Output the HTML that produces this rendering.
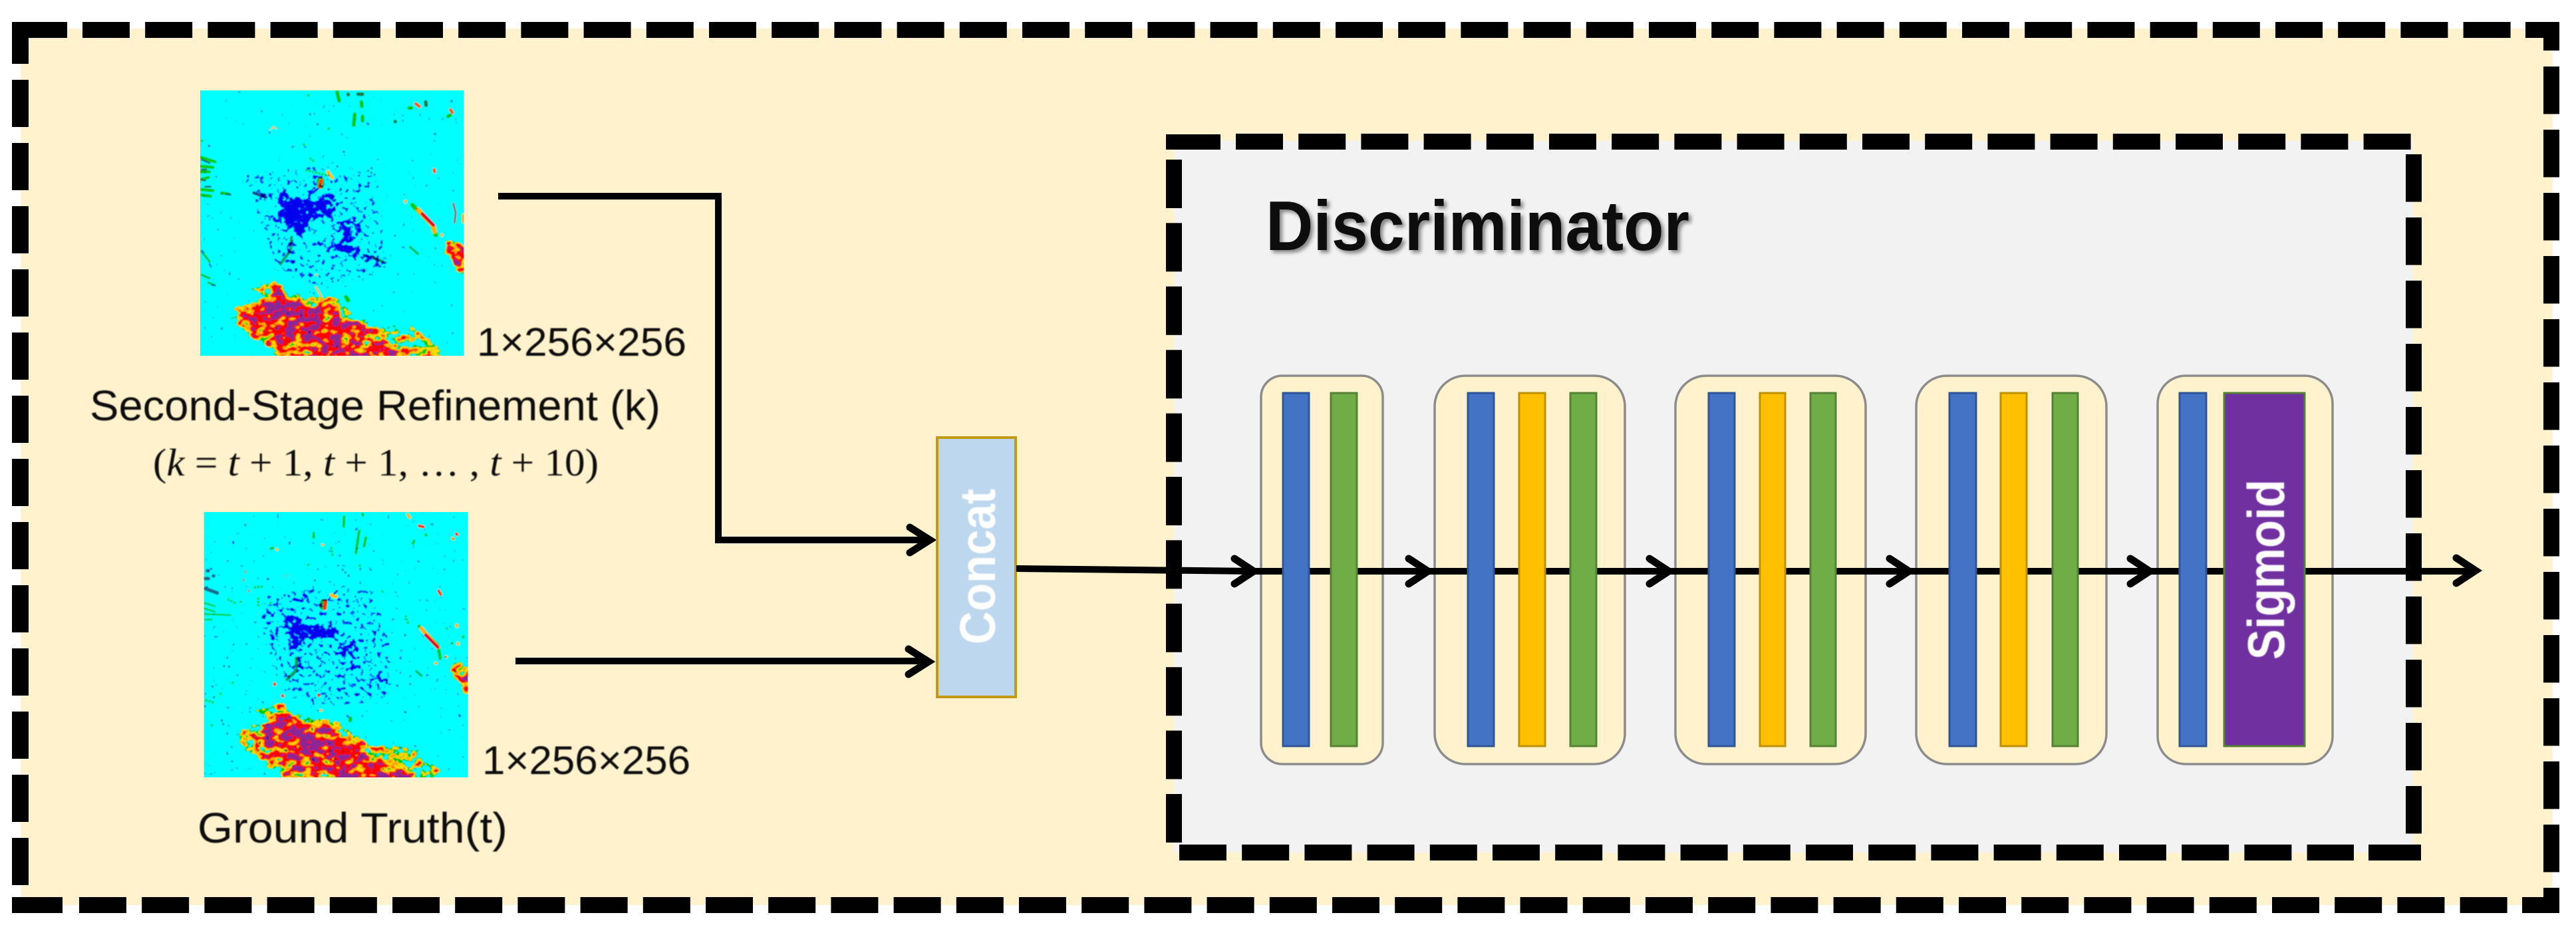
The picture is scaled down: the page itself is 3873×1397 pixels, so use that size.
<!DOCTYPE html>
<html lang="en">
<head>
<meta charset="utf-8">
<title>Discriminator diagram</title>
<style>
html,body{margin:0;padding:0;background:#fff}
svg{display:block}
text{font-family:"Liberation Sans",sans-serif;fill:#0d0d0d}
.ar{fill:none;stroke:#000;stroke-width:11;stroke-linecap:round;stroke-linejoin:miter}
.ln{fill:none;stroke:#000;stroke-width:10;stroke-linejoin:miter}
.bx{fill:#FFF2CC;stroke:#8c8c8c;stroke-width:3.5}
.bl{fill:#4472C4;stroke:#2F5597;stroke-width:3}
.ye{fill:#FFC000;stroke:#BF9000;stroke-width:3}
.gr{fill:#70AD47;stroke:#548235;stroke-width:3}
.s{fill:none;stroke-linecap:round;stroke-linejoin:round}
.sg{stroke:#00d000;stroke-width:10;stroke-dasharray:1 14}
.st{stroke:#007f9a;stroke-width:9;stroke-dasharray:1 16}
</style>
</head>
<body>
<svg xmlns="http://www.w3.org/2000/svg" width="3873" height="1397" viewBox="0 0 3873 1397">
<defs>
<clipPath id="c1"><rect x="33" y="18" width="1189" height="1197"/></clipPath>
<clipPath id="c2"><rect x="20" y="30" width="1190" height="1197"/></clipPath>
<filter id="sf" x="-2%" y="-2%" width="104%" height="104%"><feGaussianBlur stdDeviation="2"/></filter>
<filter id="tb" x="-5%" y="-20%" width="110%" height="140%"><feGaussianBlur stdDeviation="0.8"/></filter>
<filter id="m1" x="0" y="0" width="100%" height="100%" color-interpolation-filters="sRGB">
<feGaussianBlur in="SourceGraphic" stdDeviation="9" result="h"/>
<feTurbulence type="fractalNoise" baseFrequency=".024 .034" numOctaves="2" seed="4"/>
<feColorMatrix type="matrix" values="1 0 0 0 0 1 0 0 0 0 1 0 0 0 0 0 0 0 0 1" result="n"/>
<feComposite in="h" in2="n" operator="arithmetic" k1="0" k2="1" k3="1" k4="-.5"/>
<feComponentTransfer>
<feFuncR type="discrete" tableValues="0 0 0 0 0 0 1 1 1 1 .55 .55"/>
<feFuncG type="discrete" tableValues="1 1 1 1 1 .8 .85 .65 0 0 .15 .15"/>
<feFuncB type="discrete" tableValues="1 1 1 1 1 0 0 0 0 0 .58 .58"/>
</feComponentTransfer>
</filter>
<filter id="m2" x="0" y="0" width="100%" height="100%" color-interpolation-filters="sRGB">
<feGaussianBlur in="SourceGraphic" stdDeviation="9" result="h"/>
<feTurbulence type="fractalNoise" baseFrequency=".024 .034" numOctaves="2" seed="11"/>
<feColorMatrix type="matrix" values="1 0 0 0 0 1 0 0 0 0 1 0 0 0 0 0 0 0 0 1" result="n"/>
<feComposite in="h" in2="n" operator="arithmetic" k1="0" k2="1" k3="1" k4="-.5"/>
<feComponentTransfer>
<feFuncR type="discrete" tableValues="0 0 0 0 0 0 1 1 1 1 .55 .55"/>
<feFuncG type="discrete" tableValues="1 1 1 1 1 .8 .85 .65 0 0 .15 .15"/>
<feFuncB type="discrete" tableValues="1 1 1 1 1 0 0 0 0 0 .58 .58"/>
</feComponentTransfer>
</filter>
<filter id="b1" x="0" y="0" width="100%" height="100%" color-interpolation-filters="sRGB">
<feGaussianBlur in="SourceGraphic" stdDeviation="8" result="h"/>
<feTurbulence type="fractalNoise" baseFrequency=".05" numOctaves="2" seed="7"/>
<feColorMatrix type="matrix" values="1 0 0 0 0 1 0 0 0 0 1 0 0 0 0 0 0 0 0 1" result="n"/>
<feComposite in="h" in2="n" operator="arithmetic" k1="0" k2="1" k3="1.8" k4="-.9"/>
<feComponentTransfer>
<feFuncR type="discrete" tableValues="1 1 1 1 1 1 1 1 .1 .1 0 0 0 0 0 0"/>
<feFuncG type="discrete" tableValues="1 1 1 1 1 1 1 1 .4 .4 0 0 0 0 0 0"/>
<feFuncB type="discrete" tableValues="1 1 1 1 1 1 1 1 1 1 .94 .94 .94 .94 .94 .94"/>
</feComponentTransfer>
</filter>
<filter id="b2" x="0" y="0" width="100%" height="100%" color-interpolation-filters="sRGB">
<feGaussianBlur in="SourceGraphic" stdDeviation="8" result="h"/>
<feTurbulence type="fractalNoise" baseFrequency=".05" numOctaves="2" seed="23"/>
<feColorMatrix type="matrix" values="1 0 0 0 0 1 0 0 0 0 1 0 0 0 0 0 0 0 0 1" result="n"/>
<feComposite in="h" in2="n" operator="arithmetic" k1="0" k2="1" k3="1.8" k4="-.9"/>
<feComponentTransfer>
<feFuncR type="discrete" tableValues="1 1 1 1 1 1 1 1 .1 .1 0 0 0 0 0 0"/>
<feFuncG type="discrete" tableValues="1 1 1 1 1 1 1 1 .4 .4 0 0 0 0 0 0"/>
<feFuncB type="discrete" tableValues="1 1 1 1 1 1 1 1 1 1 .94 .94 .94 .94 .94 .94"/>
</feComponentTransfer>
</filter>
</defs>

<rect width="3873" height="1397" fill="#fff"/>
<!-- outer panel -->
<rect x="31" y="43" width="3807" height="1318" fill="#FFF2CC"/>

<!-- inner panel -->
<rect x="1765" y="212" width="1863" height="1070" fill="#F2F2F2"/>

<!-- radar image 1 -->
<g transform="translate(290,130) scale(.33333)">
<g clip-path="url(#c1)" filter="url(#sf)">
<g filter="url(#m1)">
<rect x="0" y="0" width="1260" height="1260" fill="#000"/>
<path fill="#7d7d7d" d="M160,1050L230,1110L300,1160L385,1215L380,1260L1160,1260L1100,1165L1060,1130L1000,1085L985,1070L960,1120L905,1070L860,1085L780,1045L730,1045L700,990L650,950L590,945L510,950L420,920L385,870L345,880L300,890L230,905L300,935L330,955L275,970L175,995L200,1030Z"/>
<path fill="#a0a0a0" d="M175,1000L240,990L280,970L340,960L350,890L385,880L410,930L470,960L530,985L590,950L640,975L660,1030L740,1050L790,1090L850,1110L900,1170L960,1180L1000,1260L390,1260L350,1165L290,1150L215,1080Z"/>
<path fill="#c4c4c4" d="M230,1020L280,985L345,975L352,905L385,900L410,955L480,980L540,1010L585,975L630,995L650,1050L750,1070L775,1130L740,1160L800,1190L860,1170L950,1195L965,1260L620,1260L480,1170L380,1155L300,1110Z"/>
<path fill="#e0e0e0" d="M290,990L340,980L365,915L385,915L400,965L470,985L530,1025L575,1065L580,1100L540,1110L490,1105L430,1055L340,1025Z"/>
<path fill="#999" d="M1135,695L1170,685L1222,710L1260,850L1195,850L1160,775L1130,730Z"/>
<path fill="#c4c4c4" d="M1150,710L1222,730L1260,800L1260,850L1200,840L1165,770Z"/>
</g>
<!-- top specks -->
<path class="s" stroke="#00c800" stroke-width="16" d="M650,25L660,65M760,70L762,90M730,125L725,175M765,135L765,155M975,97L985,97M1150,135L1160,130"/>
<path class="s" stroke="#1a7a40" stroke-width="16" d="M745,35L765,35M700,35L701,37M912,158L913,159M1050,70L1052,85"/>
<path class="s" stroke="#ff5000" stroke-width="14" d="M1005,78L1022,90M1162,105L1170,118M1088,375L1090,385"/>
<path class="s" stroke="#ffb000" stroke-width="5" d="M350,195L365,182L378,192"/>
<path class="s sg" d="M520,40L522,42M612,190L618,190M500,262L505,262M530,325L545,338M600,400L500,375M40,245L45,250"/>
<path class="s st" d="M528,125L535,130M562,170L565,172M1092,215L1095,215M680,295L685,297M790,380L830,405M652,360L652,365"/>
<!-- left edge green -->
<path class="s" stroke="#00d000" stroke-width="14" d="M38,320L100,340M38,360L90,365M38,385L75,385M38,420L70,410M40,465L90,470M40,490L80,495M130,480L160,485"/>
<path class="s" stroke="#1a6a70" stroke-width="8" d="M40,330L75,345M40,375L60,375M40,420L55,425M55,452L80,452M150,485L170,488"/>
<path class="s" stroke="#00c000" stroke-width="9" d="M40,745L75,790M40,850L75,865M70,885L100,897"/>
<path class="s" stroke="#1040d0" stroke-width="6" d="M40,740L48,750M75,800L82,815M85,895L98,898"/>
<!-- tails -->
<path class="s" stroke="#10a070" stroke-width="13" d="M445,680L440,740L395,800"/>
<path class="s" stroke="#1030c0" stroke-width="10" d="M770,760L840,785L865,797"/>
<path class="s" stroke="#00a050" stroke-width="10" d="M810,770L860,790"/>
<path class="s" stroke="#1a4a90" stroke-width="14" d="M275,480L330,500"/>
<path class="s" stroke="#00c060" stroke-width="11" d="M980,725L1015,755"/>
<!-- orange eye -->
<path class="s" stroke="#10c040" stroke-width="34" d="M575,425L575,445"/>
<path class="s" stroke="#ff4000" stroke-width="16" d="M578,425L572,455"/>
<path class="s" stroke="#ffc000" stroke-width="15" d="M608,385L628,412"/>
<!-- right streak -->
<path class="s" stroke="#00d000" stroke-width="20" d="M990,535L1080,625L1095,670"/>
<path class="s" stroke="#ffb000" stroke-width="20" d="M1015,555L1085,630L1090,655"/>
<path class="s" stroke="#e00030" stroke-width="15" d="M1035,575L1085,625"/>
<path class="s" stroke="#a06060" stroke-width="9" d="M1175,530L1185,570L1180,615"/>
<path class="s" stroke="#ffb000" stroke-width="14" d="M958,518L959,520M1122,670L1123,671M1220,580L1220,610"/>
<path class="s" stroke="#00cc00" stroke-width="18" d="M690,950L700,965"/>
<path class="s" stroke="#ffb000" stroke-width="8" d="M555,905L580,950M555,850L560,852"/>
<!-- blue field -->
<g filter="url(#b1)" style="mix-blend-mode:multiply">
<rect x="0" y="0" width="1260" height="1260" fill="#000"/>
<path fill="#464646" d="M230,400L520,360L800,380L860,620L880,830L700,900L540,900L380,830L290,620Z"/>
<path class="s" stroke="#e4e4e4" stroke-width="44" d="M410,495L415,570L440,625M440,530L530,540L620,512M430,565L520,570L625,565M480,520L500,570M520,570L485,650M440,590L500,620"/>
<path class="s" stroke="#dcdcdc" stroke-width="36" d="M690,630L690,700L680,735M640,725L680,725L735,745"/>
<path class="s" fill="none" stroke="#a8a8a8" stroke-width="26" d="M650,650C665,600 720,600 740,630C760,665 720,680 690,680"/>
<path class="s" stroke="#a0a0a0" stroke-width="24" d="M290,482L325,500M455,715L440,735M590,710L610,725M345,590L395,610M520,500L560,450M770,765L860,795"/>
</g>
</g>
</g>

<!-- radar image 2 -->
<g transform="translate(300,760) scale(.33333)">
<g clip-path="url(#c2)" filter="url(#sf)">
<g filter="url(#m2)">
<rect x="0" y="0" width="1260" height="1260" fill="#000"/>
<path fill="#7d7d7d" d="M165,1030L190,1090L250,1140L310,1190L380,1227L380,1260L1090,1260L1080,1175L1040,1160L1000,1110L950,1100L910,1080L860,1060L780,1075L740,1060L680,1020L640,985L590,960L500,950L420,935L385,900L350,885L330,905L235,915L280,945L320,985L270,985L210,1000Z"/>
<path fill="#a0a0a0" d="M170,1015L230,1020L270,985L340,975L340,900L380,895L400,945L490,980L540,990L590,965L640,1010L640,1040L740,1065L760,1130L830,1165L900,1180L985,1205L960,1260L390,1260L340,1170L290,1150L210,1090Z"/>
<path fill="#c4c4c4" d="M280,1040L285,1000L340,990L345,915L378,910L395,965L480,990L545,1020L590,985L620,1020L630,1055L740,1075L755,1145L830,1175L860,1170L950,1220L960,1260L640,1260L500,1170L400,1150L320,1120Z"/>
<path fill="#e0e0e0" d="M285,995L340,990L355,965L420,980L480,1025L540,1055L575,1100L555,1120L490,1125L430,1055L340,1025Z"/>
<path fill="#e0e0e0" d="M425,1170L470,1162L460,1198L428,1198Z"/>
<path fill="#999" d="M1125,710L1150,700L1260,745L1260,860L1195,855L1160,790L1130,740Z"/>
<path fill="#c4c4c4" d="M1170,770L1260,760L1260,850L1195,840Z"/>
</g>
<path class="s" stroke="#00c800" stroke-width="11" d="M652,50L650,95M515,125L515,145M720,115L705,215M750,145L742,185M968,160L962,172M1020,132L1022,135M735,38L737,45M322,195L330,192"/>
<path class="s" stroke="#ffb000" stroke-width="12" d="M938,40L948,55M348,198L349,200M1140,148L1145,152M555,178L556,178"/>
<path class="s" stroke="#ff3000" stroke-width="13" d="M990,92L1010,97M1158,128L1162,132M1078,385L1088,402"/>
<path class="s sg" d="M595,192L600,230M490,268L492,268M722,272L724,272M825,388L832,398M930,500L940,530M1115,555L1116,555"/>
<path class="s st" d="M520,338L522,340M672,318L674,318M645,290L660,305"/>
<!-- left edge -->
<path class="s" stroke="#1a6a90" stroke-width="16" d="M25,330L40,330M25,375L80,395M35,295L40,295M62,318L64,318"/>
<path class="s" stroke="#00d000" stroke-width="7" d="M22,440L70,455M22,465L70,480M22,490L140,495M25,515L55,515"/>
<path class="s" stroke="#a08060" stroke-width="8" d="M205,300L208,298M197,335L200,338M222,385L224,387M393,318L394,318"/>
<path class="s sg" d="M130,425L160,440M250,370L290,365M185,435L187,435M265,420L265,455M320,440L322,440M95,850L97,852M30,880L60,888M55,992L57,992M150,800L152,800"/>
<path class="s st" d="M110,725L111,725M58,818L60,818M65,865L67,865M100,970L110,995M125,1120L130,1115"/>
<!-- tails -->
<path class="s" stroke="#00a060" stroke-width="15" d="M438,690L435,745L395,785"/>
<path class="s" stroke="#ff4000" stroke-width="14" d="M375,858L376,860M338,805L340,808M537,855L538,858"/>
<path class="s" stroke="#00c070" stroke-width="11" d="M978,748L1000,768"/>
<!-- eye -->
<path class="s" stroke="#00c040" stroke-width="34" d="M560,440L558,455"/>
<path class="s" stroke="#ff3000" stroke-width="16" d="M568,430L565,465"/>
<path class="s" stroke="#ffc000" stroke-width="17" d="M595,405L615,412"/>
<!-- right streak -->
<path class="s" stroke="#00c800" stroke-width="14" d="M990,545L1075,630L1085,690"/>
<path class="s" stroke="#ffb000" stroke-width="18" d="M1000,555L1075,640"/>
<path class="s" stroke="#e00030" stroke-width="14" d="M1020,585L1075,640"/>
<path class="s" stroke="#ffb000" stroke-width="14" d="M1160,540L1161,545M1165,622L1166,625M1112,683L1113,683M1065,712L1066,712"/>
<path class="s" stroke="#00c800" stroke-width="11" d="M1188,595L1190,592M1138,622L1139,622"/>
<path class="s" stroke="#00cc00" stroke-width="16" d="M680,970L680,960"/>
<path class="s" stroke="#ffb000" stroke-width="10" d="M545,925L550,925"/>
<!-- blue field -->
<g filter="url(#b2)" style="mix-blend-mode:multiply">
<rect x="0" y="0" width="1260" height="1260" fill="#000"/>
<path fill="#4a4a4a" d="M270,420L480,370L800,380L860,620L860,840L700,900L540,920L390,830L290,620Z"/>
<path class="s" stroke="#e4e4e4" stroke-width="46" d="M400,510L450,540L430,630M440,530L470,560L600,575M500,585L560,565M420,570L450,600"/>
<path class="s" stroke="#d0d0d0" stroke-width="34" d="M650,640L695,630M650,665L680,660"/>
<path class="s" stroke="#9c9c9c" stroke-width="26" d="M290,500L330,485M320,580L340,595M640,735L680,740L710,720M770,770L850,800M825,850L827,845M455,705L460,735M430,420L480,410"/>
</g>
</g>
</g>

<!-- connectors behind blocks -->
<path class="ln" d="M749,295H1080V812H1395"/>
<path class="ar" d="M1368,793L1398,812L1368,831"/>
<path class="ln" d="M775,994H1395"/>
<path class="ar" d="M1366,976L1396,995L1366,1014"/>

<!-- concat -->
<rect x="1409" y="658" width="118" height="390" fill="#BDD7EE" stroke="#C49A12" stroke-width="4"/>
<text transform="translate(1496,969) rotate(-90)" font-size="75" font-weight="700" textLength="234" lengthAdjust="spacingAndGlyphs" style="fill:#fff" filter="url(#tb)">Concat</text>

<!-- blocks -->
<rect class="bx" x="1896" y="565" width="183" height="584" rx="32" ry="32"/>
<rect class="bx" x="2157" y="565" width="286" height="584" rx="46" ry="46"/>
<rect class="bx" x="2519" y="565" width="286" height="584" rx="46" ry="46"/>
<rect class="bx" x="2881" y="565" width="286" height="584" rx="46" ry="46"/>
<rect class="bx" x="3244" y="565" width="263" height="584" rx="42" ry="42"/>

<!-- main arrows -->
<path class="ln" d="M1528,855L1884,859H3722"/>
<path class="ar" d="M1856,840L1885,859L1856,878"/>
<path class="ar" d="M2118,840L2147,859L2118,878"/>
<path class="ar" d="M2480,840L2509,859L2480,878"/>
<path class="ar" d="M2841,840L2870,859L2841,878"/>
<path class="ar" d="M3203,840L3232,859L3203,878"/>
<path class="ar" d="M3693,839L3722,858L3693,877"/>

<!-- bars -->
<rect class="bl" x="1929" y="591" width="39" height="531"/><rect class="gr" x="2001" y="591" width="39" height="531"/>
<rect class="bl" x="2207" y="591" width="39" height="531"/><rect class="ye" x="2284" y="591" width="39" height="531"/><rect class="gr" x="2361" y="591" width="39" height="531"/>
<rect class="bl" x="2569" y="591" width="39" height="531"/><rect class="ye" x="2646" y="591" width="38" height="531"/><rect class="gr" x="2722" y="591" width="38" height="531"/>
<rect class="bl" x="2931" y="591" width="40" height="531"/><rect class="ye" x="3008" y="591" width="39" height="531"/><rect class="gr" x="3086" y="591" width="38" height="531"/>
<rect class="bl" x="3277" y="591" width="40" height="531"/>
<rect x="3344" y="591" width="121" height="531" fill="#7030A0" stroke="#548235" stroke-width="3"/>
<text transform="translate(3434,992) rotate(-90)" font-size="78" font-weight="700" textLength="271" lengthAdjust="spacingAndGlyphs" style="fill:#fff" filter="url(#tb)">Sigmoid</text>

<!-- outer dashed border -->
<g stroke="#000" fill="none">
<line x1="124" y1="45" x2="3775" y2="45" stroke-width="24" stroke-dasharray="71 23.2"/>
<line x1="3836" y1="100" x2="3836" y2="1312" stroke-width="24" stroke-dasharray="71.5 23.5"/>
<line x1="119" y1="1361" x2="3770" y2="1361" stroke-width="24" stroke-dasharray="71 23.2"/>
<line x1="30.5" y1="120" x2="30.5" y2="1332" stroke-width="25" stroke-dasharray="71 24"/>
<!-- inner dashed border -->
<line x1="1858" y1="213" x2="3625" y2="213" stroke-width="24" stroke-dasharray="71 23.2"/>
<line x1="3629" y1="232" x2="3629" y2="1255" stroke-width="24" stroke-dasharray="71.5 23.5"/>
<line x1="1773" y1="1282" x2="3539" y2="1282" stroke-width="24" stroke-dasharray="71 23.2"/>
<line x1="1765" y1="240" x2="1765" y2="1268" stroke-width="24" stroke-dasharray="73 22.4"/>
</g>
<g fill="#000">
<rect x="18" y="33" width="83" height="24"/><rect x="18" y="33" width="25" height="63"/>
<rect x="3797" y="33" width="51" height="24"/><rect x="3824" y="33" width="24" height="43"/>
<rect x="3792" y="1349" width="55" height="24"/><rect x="3824" y="1335" width="24" height="38"/>
<rect x="18" y="1349" width="76" height="24"/>
<rect x="1753" y="202" width="82" height="23"/><rect x="1753" y="202" width="24" height="14"/>
<rect x="3561" y="1270" width="79" height="24"/><rect x="3616" y="1273" width="24" height="21"/>
</g>

<!-- labels -->
<g filter="url(#tb)">
<text x="717" y="535" font-size="60" textLength="315" lengthAdjust="spacingAndGlyphs">1×256×256</text>
<text x="725" y="1164" font-size="60" textLength="313" lengthAdjust="spacingAndGlyphs">1×256×256</text>
<text x="135" y="632" font-size="64" textLength="858" lengthAdjust="spacingAndGlyphs">Second-Stage Refinement (k)</text>
<text x="230" y="715" font-size="58" textLength="670" lengthAdjust="spacingAndGlyphs" style="font-family:'Liberation Serif',serif">(<tspan font-style="italic">k</tspan> = <tspan font-style="italic">t</tspan> + 1, <tspan font-style="italic">t</tspan> + 1, … , <tspan font-style="italic">t</tspan> + 10)</text>
<text x="297" y="1267" font-size="64" textLength="466" lengthAdjust="spacingAndGlyphs">Ground Truth(t)</text>
</g>
<text x="1903" y="376" font-size="106" font-weight="700" textLength="637" lengthAdjust="spacingAndGlyphs" style="filter:drop-shadow(4px 4px 3px rgba(0,0,0,.45))">Discriminator</text>
</svg>
</body>
</html>
